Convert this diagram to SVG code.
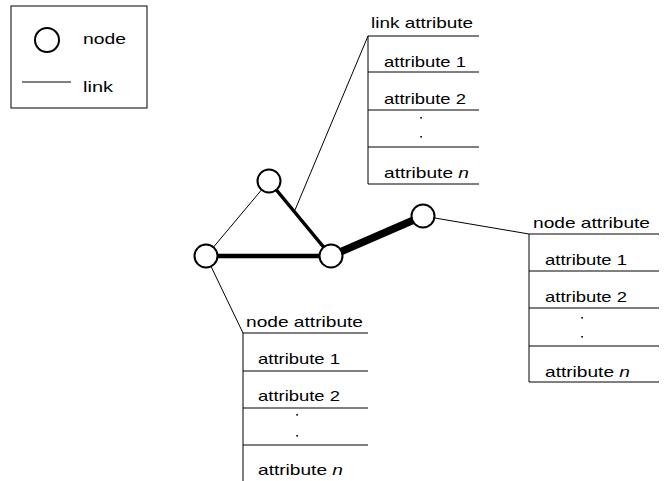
<svg xmlns="http://www.w3.org/2000/svg" width="665" height="481" viewBox="0 0 665 481">
<style>
text{font-family:"Liberation Sans",Arial,sans-serif;font-size:15px;fill:#000}
.thin{stroke:#000;stroke-width:1;fill:none}
.node{fill:#fff;stroke:#000;stroke-width:2}
.dot{fill:#000}
</style>
<rect width="665" height="481" fill="#fff"/>
<g id="legend">
<rect x="11" y="6" width="136" height="102" class="thin"/>
<circle cx="47" cy="40" r="12" class="node"/>
<text x="83" y="44" textLength="43" lengthAdjust="spacingAndGlyphs">node</text>
<line x1="22" y1="82" x2="71" y2="82" class="thin"/>
<text x="83" y="92" textLength="30" lengthAdjust="spacingAndGlyphs">link</text>
</g>
<g id="connectors">
<line x1="206" y1="256" x2="269" y2="181" stroke="#000" stroke-width="1"/>
<line x1="269" y1="181" x2="331" y2="256" stroke="#000" stroke-width="3.5"/>
<line x1="206" y1="256" x2="331" y2="256" stroke="#000" stroke-width="4.5"/>
<line x1="331" y1="256" x2="423" y2="216" stroke="#000" stroke-width="7.5"/>
<line x1="295" y1="210" x2="368" y2="36" class="thin"/>
<line x1="423" y1="216" x2="529" y2="234" class="thin"/>
<line x1="206" y1="256" x2="243" y2="333" class="thin"/>
</g>
<g id="node-top"><circle cx="269" cy="181" r="11.5" class="node"/></g>
<g id="node-left"><circle cx="206" cy="256" r="11.5" class="node"/></g>
<g id="node-middle"><circle cx="331" cy="256" r="11.5" class="node"/></g>
<g id="node-right"><circle cx="423" cy="216" r="11.5" class="node"/></g>
<g id="link-attribute-table">
<text x="371" y="28" textLength="102" lengthAdjust="spacingAndGlyphs">link attribute</text>
<line x1="368" y1="36" x2="368" y2="184" class="thin"/>
<line x1="368" y1="36" x2="479" y2="36" class="thin"/>
<line x1="368" y1="72" x2="479" y2="72" class="thin"/>
<line x1="368" y1="110" x2="479" y2="110" class="thin"/>
<line x1="368" y1="147" x2="479" y2="147" class="thin"/>
<line x1="368" y1="184" x2="479" y2="184" class="thin"/>
<text x="384" y="67" textLength="82" lengthAdjust="spacingAndGlyphs">attribute 1</text>
<text x="384" y="104" textLength="82" lengthAdjust="spacingAndGlyphs">attribute 2</text>
<rect x="420.3" y="117" width="1.6" height="1.6" class="dot"/>
<rect x="420.3" y="136" width="1.6" height="1.6" class="dot"/>
<text x="384" y="178" textLength="85" lengthAdjust="spacingAndGlyphs">attribute <tspan font-style="italic">n</tspan></text>
</g>
<g id="right-node-attribute-table">
<text x="533" y="228" textLength="117" lengthAdjust="spacingAndGlyphs">node attribute</text>
<line x1="529" y1="234" x2="529" y2="382" class="thin"/>
<line x1="529" y1="234" x2="659" y2="234" class="thin"/>
<line x1="529" y1="271" x2="659" y2="271" class="thin"/>
<line x1="529" y1="308" x2="659" y2="308" class="thin"/>
<line x1="529" y1="346" x2="659" y2="346" class="thin"/>
<line x1="529" y1="382" x2="659" y2="382" class="thin"/>
<text x="545" y="265" textLength="82" lengthAdjust="spacingAndGlyphs">attribute 1</text>
<text x="545" y="302" textLength="82" lengthAdjust="spacingAndGlyphs">attribute 2</text>
<rect x="581.3" y="317" width="1.6" height="1.6" class="dot"/>
<rect x="581.3" y="336" width="1.6" height="1.6" class="dot"/>
<text x="545" y="377" textLength="85" lengthAdjust="spacingAndGlyphs">attribute <tspan font-style="italic">n</tspan></text>
</g>
<g id="left-node-attribute-table">
<text x="246" y="327" textLength="117" lengthAdjust="spacingAndGlyphs">node attribute</text>
<line x1="243" y1="333" x2="243" y2="481" class="thin"/>
<line x1="243" y1="333" x2="368" y2="333" class="thin"/>
<line x1="243" y1="371" x2="368" y2="371" class="thin"/>
<line x1="243" y1="408" x2="368" y2="408" class="thin"/>
<line x1="243" y1="445" x2="368" y2="445" class="thin"/>
<text x="258" y="364" textLength="82" lengthAdjust="spacingAndGlyphs">attribute 1</text>
<text x="258" y="401" textLength="82" lengthAdjust="spacingAndGlyphs">attribute 2</text>
<rect x="296.3" y="414" width="1.6" height="1.6" class="dot"/>
<rect x="296.3" y="435" width="1.6" height="1.6" class="dot"/>
<text x="258" y="475" textLength="85" lengthAdjust="spacingAndGlyphs">attribute <tspan font-style="italic">n</tspan></text>
</g>
</svg>
